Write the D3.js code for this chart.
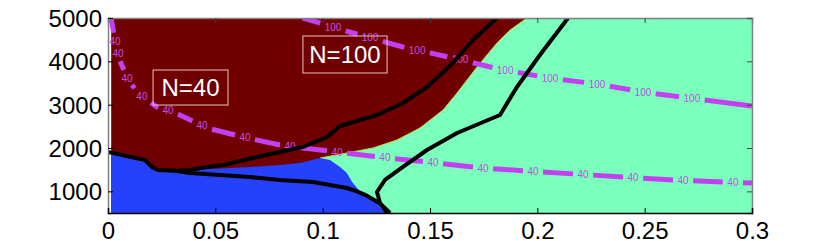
<!DOCTYPE html>
<html>
<head>
<meta charset="utf-8">
<script src="https://cdn.jsdelivr.net/npm/d3@7"></script>
<style>
    body { margin: 0; background: #fff; }
    #chart-area { width: 830px; height: 241px; }
    .axis text { font-family: "Liberation Sans", Arial, sans-serif; font-size: 24px; fill: #000; }
</style>
</head>
<body>
<div id="chart-area"></div>
<script>

// axis settings
let xTicks = [0, 0.05, 0.1, 0.15, 0.2, 0.25, 0.3];
let yTicks = [1000, 2000, 3000, 4000, 5000];
let xDomain = [0, 0.3];
let yDomain = [500, 5000];
let gridStart = 0.0015;

// filled regions (x, value)
let redRegion = [[0.0015, 5000], [0.0015, 500], [0.0988, 500], [0.0988, 1769], [0.1113, 1885], [0.1234, 2000],
    [0.1346, 2185], [0.1453, 2462], [0.1561, 2877], [0.1626, 3269], [0.1719, 3869], [0.1812, 4423],
    [0.1873, 4723], [0.1952, 5000]];
let blueRegion = [[0.0015, 500], [0.0015, 1880], [0.0172, 1723], [0.0205, 1562], [0.0233, 1492], [0.0312, 1478],
    [0.0382, 1495], [0.0661, 1560], [0.0801, 1610], [0.0894, 1654], [0.0988, 1769], [0.1034, 1723],
    [0.1081, 1562], [0.1113, 1423], [0.1137, 1215], [0.1188, 915], [0.1253, 731], [0.1290, 500]];

// black boundary lines
let boundaryUpper = [[0, 1910], [0.0172, 1723], [0.0205, 1562], [0.0233, 1492], [0.0312, 1475], [0.0382, 1492],
    [0.0461, 1562], [0.0536, 1608], [0.0694, 1792], [0.0801, 1908], [0.0908, 2023], [0.1020, 2254],
    [0.1081, 2508], [0.1253, 2762], [0.1374, 3038], [0.1486, 3408], [0.1607, 3962], [0.1700, 4492], [0.1812, 5000]];
let boundaryLower = [[0.0312, 1475], [0.0382, 1423], [0.0661, 1331], [0.0801, 1262], [0.0955, 1215], [0.1034, 1146],
    [0.1113, 1077], [0.1160, 1000], [0.1206, 900], [0.1267, 720], [0.1314, 500]];
let boundaryRight = [[0.1300, 500], [0.1267, 731], [0.1253, 985], [0.1290, 1262], [0.1374, 1562], [0.1486, 1954],
    [0.1626, 2346], [0.1826, 2762], [0.1905, 3408], [0.2012, 4146], [0.2143, 5000]];

// dashed contours N=40 and N=100
let contour40 = [[0.0014, 5000], [0.0033, 4469], [0.0056, 4008], [0.0093, 3569], [0.0149, 3223], [0.0228, 2946],
    [0.0335, 2762], [0.0461, 2462], [0.0629, 2254], [0.0801, 2069], [0.0908, 2000], [0.1067, 1908],
    [0.1300, 1769], [0.1533, 1654], [0.1747, 1538], [0.2027, 1446], [0.2399, 1331], [0.2632, 1262], [0.3000, 1192]];
let contour100 = [[0.0908, 5000], [0.1141, 4654], [0.1374, 4331], [0.1607, 4077], [0.1840, 3800], [0.2059, 3615],
    [0.2278, 3477], [0.2492, 3292], [0.2720, 3146], [0.3000, 2969]];
let labels40 = [0.0033, 0.0047, 0.0089, 0.0158, 0.0280, 0.0438, 0.0638, 0.0848, 0.1067, 0.1290, 0.1514,
    0.1747, 0.1980, 0.2213, 0.2446, 0.2679, 0.2911];
let labels100 = [0.1048, 0.1221, 0.1440, 0.1640, 0.1850, 0.2059, 0.2278, 0.2492, 0.2720];

// text boxes: [x0, x1, yTop, yBottom]
let annotations = [
    {text: "N=40", box: [0.0210, 0.0559, 3800, 2992]},
    {text: "N=100", box: [0.0908, 0.1300, 4585, 3731]}
];

class ContourPlot {

    constructor(parentElement) {
        this.parentElement = parentElement;
        this.initVis();
    }

    initVis() {
        let vis = this;
        vis.margin = {top: 18, right: 78, bottom: 28, left: 108};
        vis.width = 830 - vis.margin.left - vis.margin.right;
        vis.height = 241 - vis.margin.top - vis.margin.bottom;

        vis.svg = d3.select("#" + vis.parentElement).append("svg")
            .attr("width", 830)
            .attr("height", 241)
            .append("g")
            .attr("transform", `translate (${vis.margin.left}, ${vis.margin.top})`);

        vis.xScale = d3.scaleLinear().domain(xDomain).range([0, vis.width]);
        vis.yScale = d3.scaleLinear().domain(yDomain).range([vis.height, 0]);

        vis.svg.append("clipPath").attr("id", "plot-clip")
            .append("rect").attr("width", vis.width).attr("height", vis.height);

        vis.plot = vis.svg.append("g").attr("clip-path", "url(#plot-clip)");

        vis.line = d3.line().x(d => vis.xScale(d[0])).y(d => vis.yScale(d[1]));

        vis.updateVis();
    }

    updateVis() {
        let vis = this;

        // background region
        vis.plot.append("rect")
            .attr("x", vis.xScale(gridStart))
            .attr("y", 0)
            .attr("width", vis.xScale(xDomain[1]) - vis.xScale(gridStart))
            .attr("height", vis.height)
            .attr("fill", "#7bffbc");

        vis.plot.append("path")
            .attr("d", vis.line(redRegion) + "Z")
            .attr("fill", "#700000")
            .attr("stroke", "none");

        // faint yellow edge on the red/green border
        vis.plot.append("path")
            .attr("d", vis.line(redRegion.slice(3)))
            .attr("fill", "none")
            .attr("stroke", "#c4d640")
            .attr("stroke-width", 1);

        vis.plot.append("path")
            .attr("d", vis.line(blueRegion) + "Z")
            .attr("fill", "#2541fb")
            .attr("stroke", "none");

        // contours with inline labels
        vis.drawContour(contour40, labels40, "40");
        vis.drawContour(contour100, labels100, "100");

        [boundaryUpper, boundaryLower, boundaryRight].forEach(function (pts) {
            vis.plot.append("path")
                .attr("d", vis.line(pts))
                .attr("fill", "none")
                .attr("stroke", "#000")
                .attr("stroke-width", 4)
                .attr("stroke-linejoin", "round");
        });

        // annotation boxes
        annotations.forEach(function (a) {
            let x0 = vis.xScale(a.box[0]), x1 = vis.xScale(a.box[1]);
            let y0 = vis.yScale(a.box[2]), y1 = vis.yScale(a.box[3]);
            vis.plot.append("rect")
                .attr("x", x0).attr("y", y0)
                .attr("width", x1 - x0).attr("height", y1 - y0)
                .attr("fill", "none")
                .attr("stroke", "#e8c4c4")
                .attr("stroke-width", 1);
            vis.plot.append("text")
                .text(a.text)
                .attr("x", (x0 + x1) / 2)
                .attr("y", (y0 + y1) / 2 + 8.5)
                .attr("text-anchor", "middle")
                .attr("fill", "#fff")
                .style("font-family", "Liberation Sans, Arial, sans-serif")
                .style("font-size", "24px");
        });

        // axes
        let top = vis.svg.append("g").attr("class", "axis")
            .call(d3.axisTop(vis.xScale).tickValues(xTicks).tickSize(-5).tickFormat(""));
        let right = vis.svg.append("g").attr("class", "axis")
            .attr("transform", `translate (${vis.width}, 0)`)
            .call(d3.axisRight(vis.yScale).tickValues(yTicks).tickSize(-5).tickFormat(""));
        let left = vis.svg.append("g").attr("class", "axis")
            .call(d3.axisLeft(vis.yScale).tickValues(yTicks).tickSize(-5).tickPadding(6).tickFormat(d3.format("d")));
        let bottom = vis.svg.append("g").attr("class", "axis")
            .attr("transform", `translate (0, ${vis.height})`)
            .call(d3.axisBottom(vis.xScale).tickValues(xTicks).tickSize(-5).tickPadding(9).tickFormat(d3.format("~g")));

        [top, right, left].forEach(g => g.select(".domain").attr("stroke", "#808080").attr("stroke-width", 1.5));
        [top, right].forEach(g => g.selectAll(".tick line").attr("stroke", "#444"));
        bottom.select(".domain").attr("stroke", "#000").attr("stroke-width", 1.5);
        left.selectAll("text").attr("dy", "0.36em");
    }

    drawContour(pts, labelXs, labelText) {
        let vis = this;
        let path = vis.plot.append("path")
            .attr("d", vis.line(pts))
            .attr("fill", "none")
            .attr("stroke", "#c23ff2")
            .attr("stroke-width", 5);

        let node = path.node();
        let total = node.getTotalLength();
        let charW = 5.56;
        let textW = labelText.length * charW, textH = 7.5;

        // arc length for each label anchor
        let anchors = labelXs.map(function (lx) {
            let target = vis.xScale(lx);
            let lo = 0, hi = total;
            for (let i = 0; i < 40; i++) {
                let mid = (lo + hi) / 2;
                if (node.getPointAtLength(mid).x < target) lo = mid; else hi = mid;
            }
            let p = node.getPointAtLength(lo);
            let q = node.getPointAtLength(Math.min(total, lo + 1));
            let ang = Math.atan2(q.y - p.y, q.x - p.x);
            let c = Math.abs(Math.cos(ang)), s = Math.abs(Math.sin(ang));
            let extent = Math.min(c > 0.01 ? textW / c : 1e9, s > 0.01 ? textH / s : 1e9) + 9;
            return {s: lo, p: p, half: extent / 2};
        });

        // dash pattern with gaps holding the labels
        let dashes = [];
        let pos = 0;
        anchors.forEach(function (a) {
            let g0 = Math.max(pos, a.s - a.half), g1 = a.s + a.half;
            dashes.push(Math.max(0, g0 - pos), g1 - g0);
            pos = g1;
        });
        dashes.push(Math.max(0, total - pos) + 1, 1);
        path.attr("stroke-dasharray", dashes.join(" "));

        vis.plot.selectAll(".lab-" + labelText)
            .data(anchors)
            .enter()
            .append("text")
            .attr("class", "lab-" + labelText)
            .attr("x", d => d.p.x)
            .attr("y", d => d.p.y)
            .attr("dy", "0.36em")
            .attr("text-anchor", "middle")
            .attr("fill", "#c04ee6")
            .style("font-family", "Liberation Sans, Arial, sans-serif")
            .style("font-size", "10px")
            .text(labelText);
    }
}

let plot = new ContourPlot("chart-area");

</script>
</body>
</html>
